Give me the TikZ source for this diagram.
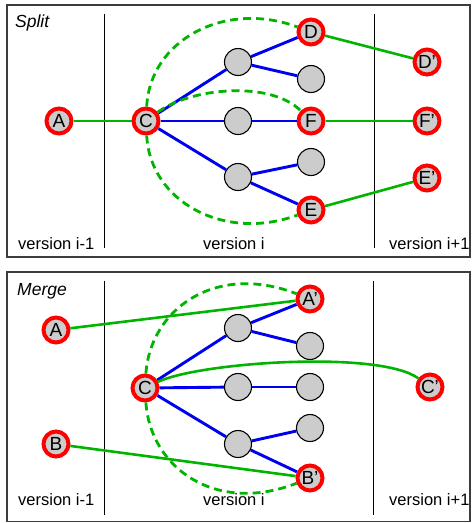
\documentclass[tikz,border=0pt]{standalone}
\usepackage{fontspec}
\setmainfont{Liberation Sans}
\definecolor{nodegray}{RGB}{204,204,204}
\definecolor{linkgreen}{RGB}{0,180,0}
\definecolor{treeblue}{RGB}{0,0,240}
\definecolor{framegray}{RGB}{60,60,60}
\begin{document}
\begin{tikzpicture}[x=1pt,y=-1pt,
  key/.style={circle,draw=red,fill=nodegray,line width=4pt,minimum size=25pt,inner sep=0pt,font=\fontsize{19}{19}\selectfont},
  plain/.style={circle,draw=black,fill=nodegray,line width=1.1pt,minimum size=27pt,inner sep=0pt},
  tree/.style={draw=treeblue,line width=2.9pt},
  link/.style={draw=linkgreen,line width=2.6pt},
  hull/.style={draw=linkgreen,line width=2.8pt,dash pattern=on 8pt off 5pt},
  frame/.style={draw=framegray,line width=1.5pt},
  divider/.style={draw=black,line width=0.8pt},
  caption/.style={font=\fontsize{16.5}{16.5}\selectfont,anchor=base west,inner sep=0pt},
  title/.style={font=\fontsize{17.5}{17.5}\selectfont\itshape,anchor=base west,inner sep=0pt}
]
\useasboundingbox (0,0) rectangle (472,523);

% ---------- Split panel ----------
\draw[frame] (7,5) rectangle (470,257);
\draw[divider] (104,14) -- (104,248);
\draw[divider] (374,14) -- (374,248);
\node[title] (splitT) at (15,27) {Split};
\node[caption] (s1) at (18,249) {version i-1};
\node[caption] (s2) at (203,249) {version i};
\node[caption] (s3) at (389,249) {version i+1};

\node[key] (sA) at (59,121) {A};
\node[key] (sC) at (146,121) {C};
\node[plain] (sg1) at (238,62) {};
\node[plain] (sg2) at (238,121) {};
\node[plain] (sg3) at (238,177) {};
\node[key] (sD) at (311,32) {D};
\node[plain] (sh2) at (311,79) {};
\node[key] (sF) at (311,121) {F};
\node[plain] (sh4) at (311,162) {};
\node[key] (sE) at (311,210) {E};
\node[key] (sD2) at (427,62) {D'};
\node[key] (sF2) at (427,121) {F'};
\node[key] (sE2) at (427,178) {E'};

\draw[tree] (sC) -- (sg1);
\draw[tree] (sC) -- (sg2);
\draw[tree] (sC) -- (sg3);
\draw[tree] (sg1) -- (sD);
\draw[tree] (sg1) -- (sh2);
\draw[tree] (sg2) -- (sF);
\draw[tree] (sg3) -- (sh4);
\draw[tree] (sg3) -- (sE);

\draw[link] (sA) -- (sC);
\draw[link] (sD) -- (sD2);
\draw[link] (sF) -- (sF2);
\draw[link] (sE) -- (sE2);

\draw[hull] (sC) .. controls (150,40) and (225,0) .. (sD);
\draw[hull] (sC) .. controls (150,202) and (225,242) .. (sE);
\draw[hull] (sC) .. controls (190,88) and (270,80) .. (sF);

% ---------- Merge panel ----------
\draw[frame] (7,272) rectangle (470,521.5);
\draw[divider] (104,281) -- (104,515);
\draw[divider] (373,281) -- (373,515);
\node[title] (mergeT) at (17,295) {Merge};
\node[caption] (m1) at (18,505) {version i-1};
\node[caption] (m2) at (203,505) {version i};
\node[caption] (m3) at (389,505) {version i+1};

\node[key] (mA) at (56,330) {A};
\node[key] (mB) at (56,444) {B};
\node[key] (mC) at (145,388) {C};
\node[plain] (mg1) at (238,328) {};
\node[plain] (mg2) at (238,387) {};
\node[plain] (mg3) at (238,444) {};
\node[key] (mA2) at (310,299) {A'};
\node[plain] (mh2) at (310,346) {};
\node[plain] (mh3) at (310,387) {};
\node[plain] (mh4) at (310,428) {};
\node[key] (mB2) at (310,478) {B'};
\node[key] (mC2) at (430,387) {C'};

\draw[tree] (mC) -- (mg1);
\draw[tree] (mC) -- (mg2);
\draw[tree] (mC) -- (mg3);
\draw[tree] (mg1) -- (mA2);
\draw[tree] (mg1) -- (mh2);
\draw[tree] (mg2) -- (mh3);
\draw[tree] (mg3) -- (mh4);
\draw[tree] (mg3) -- (mB2);

\draw[link] (mA) -- (mA2);
\draw[link] (mB) -- (mB2);
\draw[link] (mC) .. controls (200,362) and (380,350) .. (mC2);

\draw[hull] (mC) .. controls (150,310) and (215,262) .. (mA2);
\draw[hull] (mC) .. controls (150,467) and (215,515) .. (mB2);
\end{tikzpicture}
\end{document}
